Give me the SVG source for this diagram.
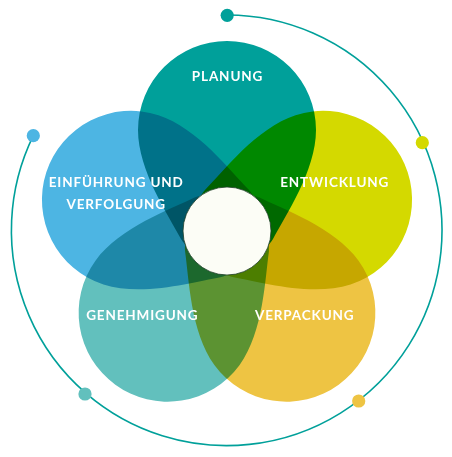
<svg xmlns="http://www.w3.org/2000/svg" width="452" height="457" viewBox="0 0 452 457">
  <defs>
    <style>
      .petal { mix-blend-mode: multiply; }
      .lbl { font-family: Lato, "Noto Sans", sans-serif; font-weight: 700; font-size: 13.5px; letter-spacing: 0.85px; fill: #ffffff; text-anchor: middle; }
      .ring { fill: none; stroke: #00a09a; stroke-width: 1.6; }
    </style>
    <path id="drop" d="M 0,28 C -15,28 -38,22 -46,8 C -58,-15 -89,-60 -89,-101 A 89 89 0 0 1 0,-190 A 89 89 0 0 1 89,-101 C 89,-60 58,-15 46,8 C 38,22 15,28 0,28 Z"/>
  </defs>
  <rect width="452" height="457" fill="#ffffff"/>

  <g id="connectors">
    <path class="ring" d="M 227.2,15 A 215.3 215.3 0 1 1 33.3,135.7"/>
    <circle cx="227.2" cy="15.3" r="6.6" fill="#00a09a"/>
    <circle cx="422.3" cy="142.7" r="6.6" fill="#d4d900"/>
    <circle cx="358.7" cy="401" r="6.6" fill="#eec443"/>
    <circle cx="85" cy="394" r="6.6" fill="#62c0bd"/>
    <circle cx="33.3" cy="135.7" r="6.6" fill="#4db5e3"/>
  </g>

  <g id="petals">
    <g id="planung"><use href="#drop" class="petal" fill="#00a09a" transform="translate(227,231)"/></g>
    <g id="entwicklung"><use href="#drop" class="petal" fill="#d4d900" transform="translate(227,231) rotate(72)"/></g>
    <g id="verpackung"><use href="#drop" class="petal" fill="#eec443" transform="translate(227,231) rotate(144)"/></g>
    <g id="genehmigung"><use href="#drop" class="petal" fill="#62c0bd" transform="translate(227,231) rotate(216)"/></g>
    <g id="einfuehrung"><use href="#drop" class="petal" fill="#4db5e3" transform="translate(227,231) rotate(288)"/></g>
  </g>

  <g id="center">
    <circle cx="227" cy="231" r="44" fill="#fcfdf6" stroke="#1e3d28" stroke-width="0.8"/>
  </g>

  <g id="labels">
    <text class="lbl" x="227.5" y="81">PLANUNG</text>
    <text class="lbl" x="334.7" y="186.7">ENTWICKLUNG</text>
    <text class="lbl" x="304.7" y="320.3">VERPACKUNG</text>
    <text class="lbl" x="142.3" y="320.3">GENEHMIGUNG</text>
    <text class="lbl" x="116.2" y="186.7">EINFÜHRUNG UND</text>
    <text class="lbl" x="116.2" y="209">VERFOLGUNG</text>
  </g>
</svg>
